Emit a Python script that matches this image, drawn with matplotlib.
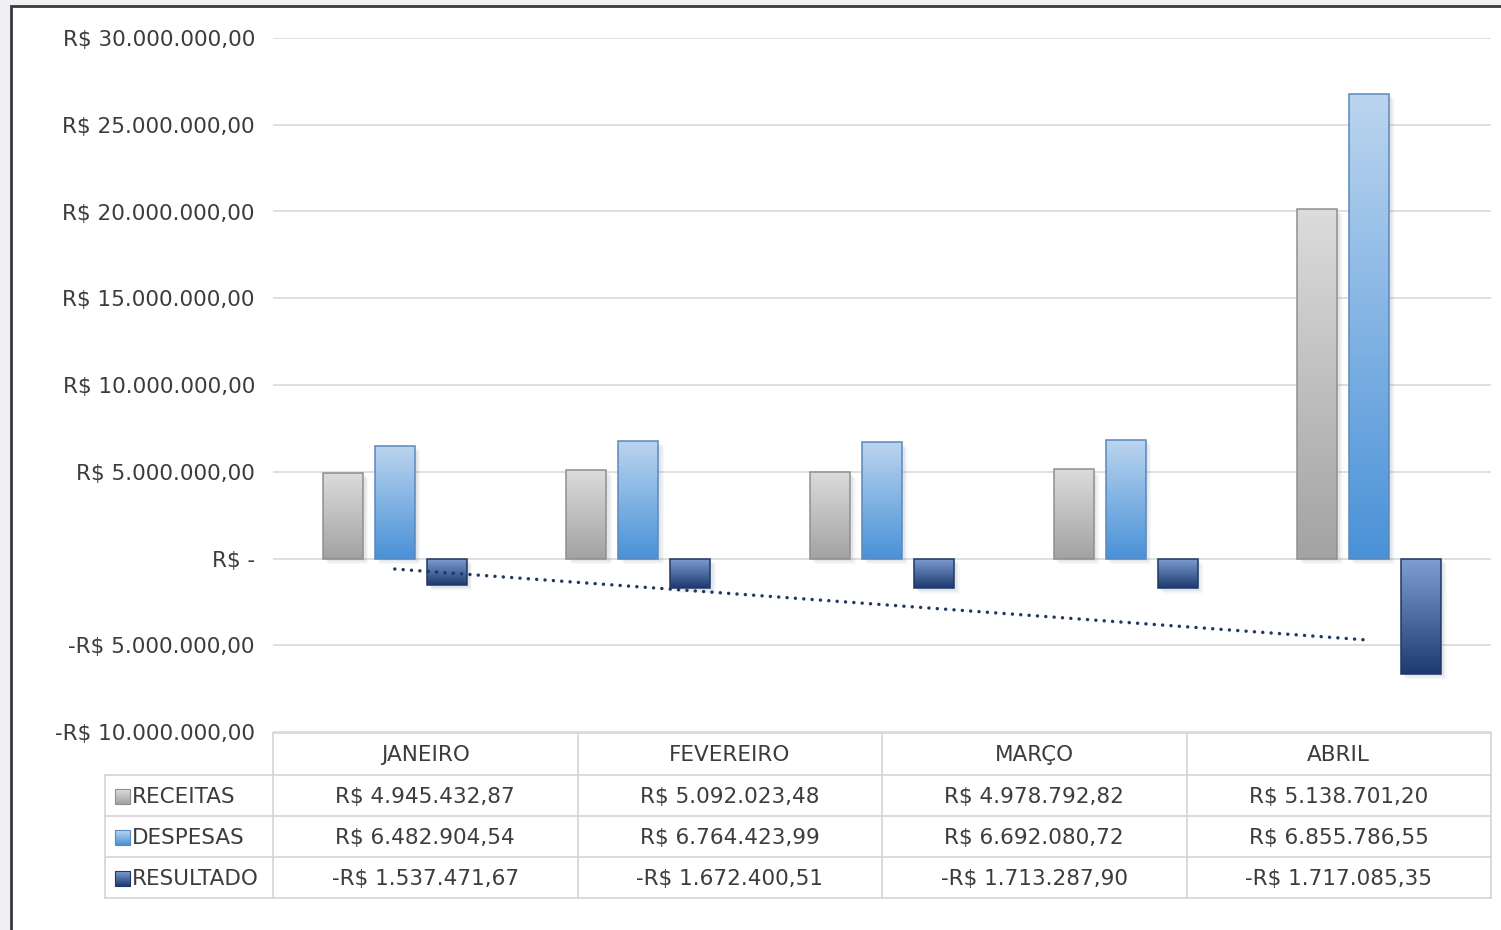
import numpy as np
import matplotlib
matplotlib.use("Agg")
import matplotlib.pyplot as plt
import matplotlib.ticker as ticker
import matplotlib.patheffects as pe
from matplotlib.colors import LinearSegmentedColormap
from matplotlib.patches import Rectangle

plt.rcParams['font.family'] = ['DejaVu Sans']
text_color = '#3c3c3c'
grid_color = '#d9d9d9'
font_size = 15.5

months = ['JANEIRO', 'FEVEREIRO', 'MARÇO', 'ABRIL']
series_names = ['RECEITAS', 'DESPESAS', 'RESULTADO']
# four months + total column (fifth group, unlabelled in the table)
receitas = [4945432.87, 5092023.48, 4978792.82, 5138701.20, 20154950.37]
despesas = [6482904.54, 6764423.99, 6692080.72, 6855786.55, 26795195.80]
resultado = [-1537471.67, -1672400.51, -1713287.90, -1717085.35, -6640245.43]

# (top colour, bottom colour, edge colour)
styles = [
    ('#dcdcdc', '#a3a3a3', '#8f8f8f'),
    ('#bcd5ef', '#4a92d8', '#5a88bb'),
    ('#7f9fd3', '#1e3a70', '#1f3864'),
]


def brl(value):
    s = f'{abs(value):,.2f}'.replace(',', 'X').replace('.', ',').replace('X', '.')
    return ('-R$ ' if value < 0 else 'R$ ') + s


def axis_label(value, pos):
    if abs(value) < 1:
        return 'R$ -'
    return brl(value)


W, H = 1501, 930
fig = plt.figure(figsize=(W / 100, H / 100), dpi=100)
fig.patch.set_facecolor('#eef0f3')

# frame + table layer, pixel coordinates
bg = fig.add_axes([0, 0, 1, 1], zorder=0)
bg.set_xlim(0, W)
bg.set_ylim(H, 0)
bg.axis('off')
bg.add_patch(Rectangle((11, 6), W + 20, H + 20, facecolor='white',
                       edgecolor='#3a3a3a', lw=2))

left, right, top, bottom = 273, 1491, 38, 732
ax = fig.add_axes([left / W, 1 - bottom / H, (right - left) / W, (bottom - top) / H], zorder=1)
ax.patch.set_alpha(0)

x = np.arange(len(receitas))
width = 0.164
step = 0.2135
shadow = [pe.SimplePatchShadow(offset=(o, -o), shadow_rgbFace='#6d7b8d', alpha=a)
          for o, a in [(4, 0.05), (3, 0.07), (2, 0.08)]] + [pe.Normal()]

for i, (vals, (c_top, c_bot, c_edge)) in enumerate(zip([receitas, despesas, resultado], styles)):
    bars = ax.bar(x + (i - 1) * step, vals, width, color=c_bot, lw=0, zorder=2,
                  path_effects=shadow)
    cmap = LinearSegmentedColormap.from_list(f's{i}', [c_top, c_bot])
    grad = np.linspace(0, 1, 256).reshape(-1, 1)
    for p in bars.patches:
        y0, y1 = sorted([p.get_y(), p.get_y() + p.get_height()])
        im = ax.imshow(grad, cmap=cmap, extent=[p.get_x(), p.get_x() + p.get_width(), y0, y1],
                       origin='upper', aspect='auto', zorder=3, interpolation='bilinear')
        im.set_clip_path(p)
        ax.add_patch(Rectangle(p.get_xy(), p.get_width(), p.get_height(), fill=False,
                               edgecolor=c_edge, lw=1.1, zorder=4))

# linear trend of RESULTADO
coef = np.polyfit(x, resultado, 1)
trend = np.polyval(coef, x)
ax.plot(x[[0, -1]], trend[[0, -1]], color='#1f3864', lw=2.5, ls=(0, (0.01, 2.4)),
        dash_capstyle='round', zorder=5)

ax.set_xlim(-0.5, len(receitas) - 0.5)
ax.set_ylim(-10e6, 30e6)
ax.yaxis.set_major_locator(ticker.MultipleLocator(5e6))
ax.yaxis.set_major_formatter(ticker.FuncFormatter(axis_label))
ax.tick_params(axis='y', length=0, pad=13, labelsize=font_size, labelcolor=text_color)
ax.set_xticks([])
ax.grid(axis='y', color=grid_color, lw=1.2, zorder=1)
for s in ax.spines.values():
    s.set_visible(False)

# data table
col_edges = np.linspace(left, right, len(months) + 1)
row_edges = [733, 775, 816, 857, 898]
label_left = 105
line_color = '#d4d4d4'
bg.plot([left, right], [row_edges[0]] * 2, color=line_color, lw=1.2)
for r in row_edges[1:]:
    bg.plot([label_left, right], [r, r], color=line_color, lw=1.2)
for c in col_edges:
    bg.plot([c, c], [row_edges[0], row_edges[-1]], color=line_color, lw=1.2)
bg.plot([label_left, label_left], [row_edges[1], row_edges[-1]], color=line_color, lw=1.2)

for j, m in enumerate(months):
    cx = (col_edges[j] + col_edges[j + 1]) / 2
    bg.text(cx, (row_edges[0] + row_edges[1]) / 2 + 1, m, ha='center', va='center',
            fontsize=font_size, color=text_color)

cell_vals = [receitas, despesas, resultado]
for i, name in enumerate(series_names):
    cy = (row_edges[i + 1] + row_edges[i + 2]) / 2 + 1
    c_top, c_bot, c_edge = styles[i]
    cmap = LinearSegmentedColormap.from_list(f'k{i}', [c_top, c_bot])
    bg.imshow(np.linspace(0, 1, 32).reshape(-1, 1), cmap=cmap,
              extent=[115, 130, cy + 7, cy - 8], aspect='auto', zorder=3)
    bg.add_patch(Rectangle((115, cy - 8), 15, 15, fill=False, edgecolor=c_edge, lw=0.8, zorder=4))
    bg.text(132, cy, name, ha='left', va='center', fontsize=font_size, color=text_color)
    for j in range(len(months)):
        cx = (col_edges[j] + col_edges[j + 1]) / 2
        bg.text(cx, cy, brl(cell_vals[i][j]), ha='center', va='center',
                fontsize=font_size, color=text_color)
bg.set_xlim(0, W)
bg.set_ylim(H, 0)

fig.savefig('out.png', dpi=100, facecolor=fig.get_facecolor())
